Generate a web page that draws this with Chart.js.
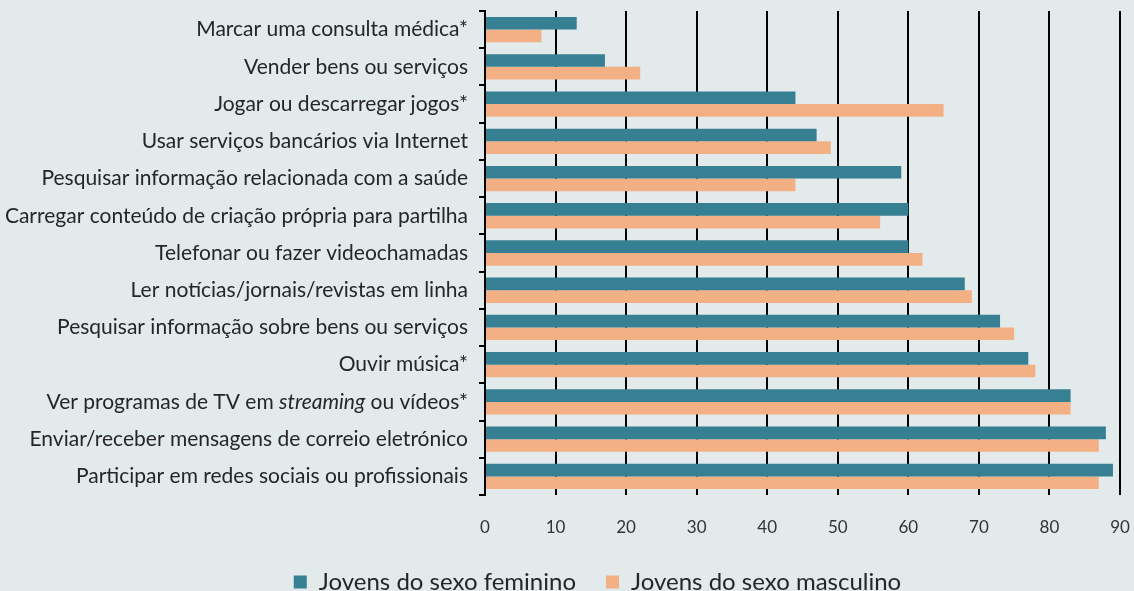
<!DOCTYPE html>
<html>
<head>
<meta charset="utf-8">
<script src="https://cdn.jsdelivr.net/npm/chart.js@4.4.0/dist/chart.umd.min.js"></script>
<style>
    html, body { margin: 0; padding: 0; background: #e2eaec; overflow: hidden; }
    #chart { display: block; }
</style>
</head>
<body>
<canvas id="chart" width="1134" height="604"></canvas>
<script>
// === DATA ===
const categories = [
    'Marcar uma consulta médica*',
    'Vender bens ou serviços',
    'Jogar ou descarregar jogos*',
    'Usar serviços bancários via Internet',
    'Pesquisar informação relacionada com a saúde',
    'Carregar conteúdo de criação própria para partilha',
    'Telefonar ou fazer videochamadas',
    'Ler notícias/jornais/revistas em linha',
    'Pesquisar informação sobre bens ou serviços',
    'Ouvir música*',
    'Ver programas de TV em streaming ou vídeos*',
    'Enviar/receber mensagens de correio eletrónico',
    'Participar em redes sociais ou profissionais'
];
const feminino = [13, 17, 44, 47, 59, 60, 60, 68, 73, 77, 83, 88, 89];
const masculino = [8, 22, 65, 49, 44, 56, 62, 69, 75, 78, 83, 87, 87];
const seriesNames = ['Jovens do sexo feminino', 'Jovens do sexo masculino'];
const xTicks = [0, 10, 20, 30, 40, 50, 60, 70, 80, 90];

const TEAL = '#377f93';
const ORANGE = '#f3b084';
const FONT = 'Lato, "Open Sans", sans-serif';
const LABEL_SIZE = 21;

// === CATEGORY LABELS (drawn by hand so "streaming" can be italic) ===
const labelPlugin = {
    id: 'catLabels',
    afterDraw(chart) {
        const ctx = chart.ctx;
        const y = chart.scales.y;
        const right = chart.chartArea.left - 17;
        ctx.save();
        ctx.fillStyle = '#262626';
        ctx.textBaseline = 'middle';
        ctx.textAlign = 'left';
        categories.forEach((label, i) => {
            const py = y.getPixelForValue(i);
            const parts = label.indexOf('streaming') >= 0
                ? [['Ver programas de TV em ', false], ['streaming', true], [' ou vídeos*', false]]
                : [[label, false]];
            let total = 0;
            parts.forEach(p => {
                ctx.font = (p[1] ? 'italic ' : '') + LABEL_SIZE + 'px ' + FONT;
                total += ctx.measureText(p[0]).width;
            });
            let x = right - total;
            parts.forEach(p => {
                ctx.font = (p[1] ? 'italic ' : '') + LABEL_SIZE + 'px ' + FONT;
                ctx.fillText(p[0], x, py);
                x += ctx.measureText(p[0]).width;
            });
        });
        ctx.restore();
    }
};

new Chart(document.getElementById('chart'), {
    type: 'bar',
    data: {
        labels: categories,
        datasets: [
            { label: seriesNames[0], data: feminino, backgroundColor: TEAL },
            { label: seriesNames[1], data: masculino, backgroundColor: ORANGE }
        ]
    },
    options: {
        indexAxis: 'y',
        responsive: false,
        animation: false,
        layout: { padding: { left: 75, right: 14, top: 11, bottom: 0 } },
        datasets: {
            bar: { categoryPercentage: 0.68, barPercentage: 1.0 }
        },
        scales: {
            x: {
                min: 0,
                max: 90,
                afterBuildTicks: scale => { scale.ticks = xTicks.map(v => ({ value: v })); },
                grid: { color: '#000', lineWidth: 2, drawTicks: false },
                border: { display: false },
                ticks: { color: '#333', font: { family: FONT, size: 17 }, padding: 22 },
                afterFit: scale => {
                    scale.height = 45;
                    scale.paddingLeft = 0;
                    scale.paddingRight = 0;
                }
            },
            y: {
                grid: { offset: true, drawOnChartArea: false, color: '#000', lineWidth: 2, tickLength: 6 },
                border: { display: true, color: '#000', width: 2 },
                ticks: { display: false },
                afterFit: scale => { scale.width = 410; }
            }
        },
        plugins: {
            legend: {
                position: 'bottom',
                labels: {
                    color: '#262626',
                    boxWidth: 13,
                    boxHeight: 13,
                    padding: 30,
                    font: { family: FONT, size: 24 }
                }
            },
            tooltip: { enabled: false }
        }
    },
    plugins: [labelPlugin]
});
</script>
</body>
</html>
